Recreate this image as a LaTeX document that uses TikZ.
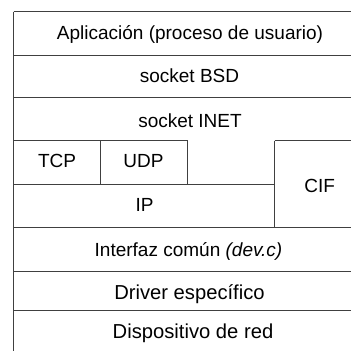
\documentclass[tikz,border=0pt]{standalone}
\usepackage{fontspec}
\setmainfont{Liberation Sans}
\begin{document}
\begin{tikzpicture}[x=1pt,y=-1pt,
  rule/.style={line width=0.9pt,draw=black!75},
  lbl/.style={anchor=base,inner sep=0pt,font=\fontsize{19}{22}\selectfont},
  widelbl/.style={lbl,font=\fontsize{20.2}{23}\selectfont}]
\useasboundingbox (0,0) rectangle (351,351);
\begin{scope}
\clip (0,0) rectangle (351,351);
% outer frame (right and bottom edges fall outside the page)
\draw[rule] (13.5,11.5) -- (366,11.5);
\draw[rule] (13.5,11.5) -- (13.5,360);
% horizontal layer separators
\draw[rule] (13.5,55) -- (366,55);
\draw[rule] (13.5,97.5) -- (366,97.5);
\draw[rule] (13.5,140.5) -- (187.7,140.5);
\draw[rule] (274.7,140.5) -- (366,140.5);
\draw[rule] (13.5,184) -- (274.7,184);
\draw[rule] (13.5,227) -- (366,227);
\draw[rule] (13.5,271) -- (366,271);
\draw[rule] (13.5,310.5) -- (366,310.5);
% vertical separators
\draw[rule] (100.7,140.5) -- (100.7,184);
\draw[rule] (187.7,140.5) -- (187.7,184);
\draw[rule] (274.7,140.5) -- (274.7,227);
\end{scope}
% layer labels
\node[lbl] (app)  at (190,39.5)  {Aplicación (proceso de usuario)};
\node[lbl] (bsd)  at (189.5,82.7)  {socket BSD};
\node[lbl] (inet) at (190,127.3) {socket INET};
\node[lbl] (tcp)  at (57,167.7)  {TCP};
\node[lbl] (udp)  at (143.5,167.7) {UDP};
\node[lbl] (ip)   at (144.5,211.7) {IP};
\node[lbl] (cif)  at (319.7,192.7) {CIF};
\node[lbl] (dev)  at (188.5,256)   {Interfaz común \textit{(dev.c)}};
\node[widelbl] (drv)  at (189.5,299.3) {Driver específico};
\node[widelbl] (nic)  at (193,338.3) {Dispositivo de red};
\end{tikzpicture}
\end{document}
